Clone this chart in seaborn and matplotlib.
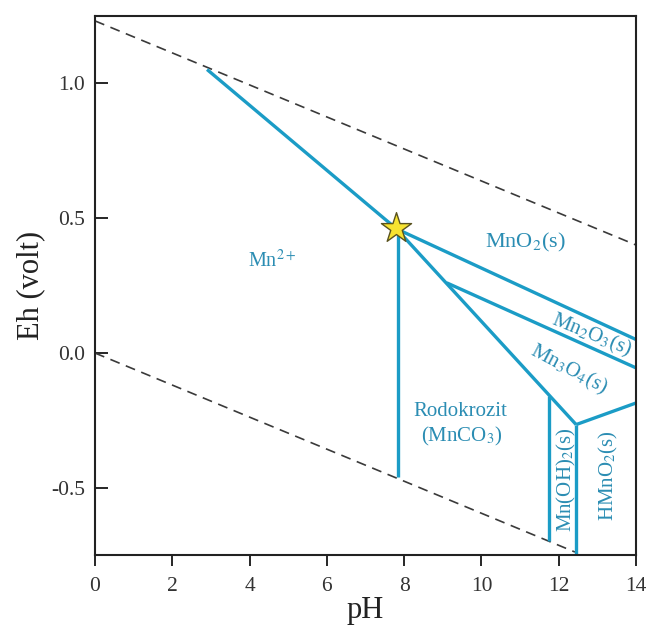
import matplotlib
matplotlib.use("Agg")
import matplotlib.pyplot as plt
import seaborn as sns
import pandas as pd

# Stability field boundaries of the Mn–H2O–CO2 system (pH vs Eh)
water_upper_ph = [0.0, 14.0]
water_upper_eh = [1.23, 0.40]
water_lower_ph = [0.0, 12.42]
water_lower_eh = [0.0, -0.737]

boundary_names = ["Mn2+/MnO2", "Mn2+/MnCO3", "MnO2/Mn2O3", "Mn2O3/Mn3O4",
                  "MnCO3/Mn3O4", "Mn3O4/HMnO2", "MnCO3/Mn(OH)2", "Mn(OH)2/HMnO2"]
boundary_ph = [[2.9, 7.8], [7.85, 7.85], [7.8, 14.0], [9.1, 14.0],
               [7.8, 12.45], [12.45, 14.0], [11.75, 11.75], [12.45, 12.45]]
boundary_eh = [[1.05, 0.46], [0.45, -0.46], [0.46, 0.05], [0.26, -0.055],
               [0.46, -0.265], [-0.265, -0.185], [-0.16, -0.695], [-0.265, -0.75]]

triple_point_ph = [7.78]
triple_point_eh = [0.463]

x_ticks = [0, 2, 4, 6, 8, 10, 12, 14]
y_ticks = [-0.5, 0.0, 0.5, 1.0]
y_tick_labels = ["-0.5", "0.0", "0.5", "1.0"]

sns.set_theme(style="ticks")
plt.rcParams["font.family"] = ["Liberation Serif", "DejaVu Serif"]
plt.rcParams["mathtext.fontset"] = "stix"

blue = "#1b9cc6"
label_blue = "#2b8db3"

fig = plt.figure(figsize=(6.52, 6.26), dpi=100)
ax = fig.add_axes([0.1457, 0.1134, 0.8298, 0.861])

# water stability limits
for px, py in [(water_upper_ph, water_upper_eh), (water_lower_ph, water_lower_eh)]:
    sns.lineplot(x=px, y=py, ax=ax, color="#3a3a3a", lw=1.2,
                 linestyle=(0, (6, 4)), sort=False, estimator=None)

# field boundaries
rows = []
for name, px, py in zip(boundary_names, boundary_ph, boundary_eh):
    for i, (a, b) in enumerate(zip(px, py)):
        rows.append({"boundary": name, "order": i, "pH": a, "Eh": b})
df = pd.DataFrame(rows)
sns.lineplot(data=df, x="pH", y="Eh", units="boundary", estimator=None,
             sort=False, color=blue, lw=2.4, ax=ax, solid_capstyle="butt")

sns.scatterplot(x=triple_point_ph, y=triple_point_eh, ax=ax, marker="*",
                s=520, color="#f7e331", edgecolor="#5a5320", linewidth=1.0,
                zorder=5)

# field labels
ax.text(4.58, 0.34, r"Mn$^{2+}$", color=label_blue, fontsize=14.5,
        ha="center", va="center")
ax.text(11.13, 0.41, r"MnO$_2$(s)", color=label_blue, fontsize=16,
        ha="center", va="center")
ax.text(12.85, 0.065, r"Mn$_2$O$_3$(s)", color=label_blue, fontsize=15,
        ha="center", va="center", rotation=-22)
ax.text(12.25, -0.06, r"Mn$_3$O$_4$(s)", color=label_blue, fontsize=15,
        ha="center", va="center", rotation=-28)
ax.text(9.45, -0.215, "Rodokrozit", color=label_blue, fontsize=15,
        ha="center", va="center")
ax.text(9.5, -0.31, r"(MnCO$_3$)", color=label_blue, fontsize=15,
        ha="center", va="center")
ax.text(12.19, -0.47, r"Mn(OH)$_2$(s)", color=label_blue, fontsize=15,
        ha="center", va="center", rotation=90)
ax.text(13.28, -0.455, r"HMnO$_2$(s)", color=label_blue, fontsize=15,
        ha="center", va="center", rotation=90)

ax.set_xlim(0, 14)
ax.set_ylim(-0.748, 1.248)
ax.set_xticks(x_ticks)
ax.set_xticklabels([str(t) for t in x_ticks])
ax.set_yticks(y_ticks)
ax.set_yticklabels(y_tick_labels)
ax.tick_params(axis="x", direction="out", length=8, width=1.4,
               labelsize=15.5, labelcolor="#333333", pad=8)
ax.tick_params(axis="y", direction="in", length=9, width=1.4,
               labelsize=15.5, labelcolor="#333333", pad=7)
for sp in ax.spines.values():
    sp.set_linewidth(1.5)
    sp.set_color("#222222")
    sp.set_visible(True)

ax.set_xlabel("pH", fontsize=22, color="#222222", labelpad=0)
ax.set_ylabel("Eh (volt)", fontsize=22, color="#222222", labelpad=4)

fig.savefig("out.png", dpi=100)
